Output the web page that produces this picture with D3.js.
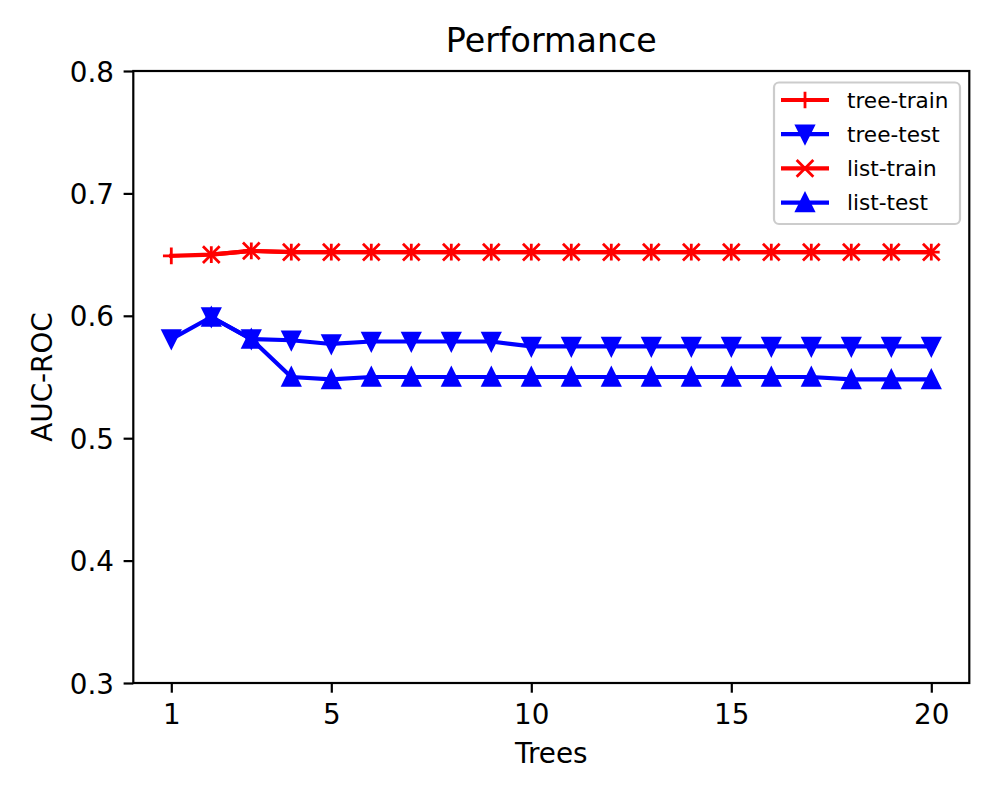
<!DOCTYPE html>
<html>
<head>
<meta charset="utf-8">
<script src="https://cdn.jsdelivr.net/npm/d3@7"></script>
<style>
  body { margin: 0; background: #fff; }
  text { font-family: "DejaVu Sans", sans-serif; fill: #000; }
</style>
</head>
<body>
<svg id="chart" width="1000" height="800"></svg>
<script>
// values
var treeX = d3.range(1, 21);
var listX = d3.range(2, 21);
var treeTrain = [0.649, 0.650, 0.653, 0.652, 0.652, 0.652, 0.652, 0.652, 0.652, 0.652,
                 0.652, 0.652, 0.652, 0.652, 0.652, 0.652, 0.652, 0.652, 0.652, 0.652];
var treeTest = [0.581, 0.599, 0.581, 0.580, 0.577, 0.579, 0.579, 0.579, 0.579, 0.575,
                0.575, 0.575, 0.575, 0.575, 0.575, 0.575, 0.575, 0.575, 0.575, 0.575];
var listTrain = [0.650, 0.653, 0.652, 0.652, 0.652, 0.652, 0.652, 0.652, 0.652, 0.652,
                 0.652, 0.652, 0.652, 0.652, 0.652, 0.652, 0.652, 0.652, 0.652];
var listTest = [0.599, 0.581, 0.550, 0.548, 0.550, 0.550, 0.550, 0.550, 0.550, 0.550,
                0.550, 0.550, 0.550, 0.550, 0.550, 0.550, 0.548, 0.548, 0.548];
var xTicks = [1, 5, 10, 15, 20];
var yTicks = [0.3, 0.4, 0.5, 0.6, 0.7, 0.8];

var series = [
    {name: 'tree-train', xs: treeX, ys: treeTrain, color: '#ff0000', marker: 'plus'},
    {name: 'tree-test', xs: treeX, ys: treeTest, color: '#0000ff', marker: 'tridown'},
    {name: 'list-train', xs: listX, ys: listTrain, color: '#ff0000', marker: 'cross'},
    {name: 'list-test', xs: listX, ys: listTest, color: '#0000ff', marker: 'triup'}
];

var box = {left: 133.3, right: 969.3, top: 71, bottom: 683};
var lw = 4.17, ms = 8.35, mew = 2.8, axw = 2.2;

var svg = d3.select('#chart');

var x = d3.scaleLinear().domain([0.05, 20.95]).range([box.left, box.right]);
var y = d3.scaleLinear().domain([0.3, 0.8]).range([box.bottom, box.top]);

var markerPath = {
    plus: 'M' + -ms + ',0H' + ms + 'M0,' + -ms + 'V' + ms,
    cross: 'M' + -ms + ',' + -ms + 'L' + ms + ',' + ms + 'M' + -ms + ',' + ms + 'L' + ms + ',' + -ms,
    tridown: 'M0,' + ms + 'L' + -ms + ',' + -ms + 'L' + ms + ',' + -ms + 'Z',
    triup: 'M0,' + -ms + 'L' + -ms + ',' + ms + 'L' + ms + ',' + ms + 'Z'
};

function drawMarker(g, kind, color) {
    var filled = kind == 'tridown' || kind == 'triup';
    g.append('path')
        .attr('d', markerPath[kind])
        .attr('fill', filled ? color : 'none')
        .attr('stroke', color)
        .attr('stroke-width', mew)
        .attr('stroke-linejoin', 'miter');
}

// axes
var xAxis = svg.append('g')
    .attr('transform', 'translate(0,' + box.bottom + ')')
    .call(d3.axisBottom(x).tickValues(xTicks).tickSize(9.7).tickPadding(9.7).tickSizeOuter(0));
var yAxis = svg.append('g')
    .attr('transform', 'translate(' + box.left + ',0)')
    .call(d3.axisLeft(y).tickValues(yTicks).tickFormat(d3.format('.1f')).tickSize(9.7).tickPadding(9.7).tickSizeOuter(0));

[xAxis, yAxis].forEach(function(a) {
    a.select('.domain').remove();
    a.selectAll('line').attr('stroke', '#000').attr('stroke-width', axw);
    a.selectAll('text')
        .style('font-family', '"DejaVu Sans", sans-serif')
        .style('font-size', '27.8px')
        .attr('fill', '#000');
});
xAxis.selectAll('text').attr('dy', '0.78em');
yAxis.selectAll('text').attr('dy', '0.36em');

// lines and markers
var line = d3.line()
    .x(function(d) { return x(d[0]); })
    .y(function(d) { return y(d[1]); });

series.forEach(function(s) {
    var pts = s.xs.map(function(v, i) { return [v, s.ys[i]]; });
    var g = svg.append('g').attr('class', 'series');
    g.append('path')
        .datum(pts)
        .attr('d', line)
        .attr('fill', 'none')
        .attr('stroke', s.color)
        .attr('stroke-width', lw)
        .attr('stroke-linejoin', 'round')
        .attr('stroke-linecap', 'square');
    g.selectAll('.mk')
        .data(pts)
      .enter()
      .append('g')
        .attr('class', 'mk')
        .attr('transform', function(d) { return 'translate(' + x(d[0]) + ',' + y(d[1]) + ')'; })
        .each(function() { drawMarker(d3.select(this), s.marker, s.color); });
});

// spines
svg.append('rect')
    .attr('x', box.left)
    .attr('y', box.top)
    .attr('width', box.right - box.left)
    .attr('height', box.bottom - box.top)
    .attr('fill', 'none')
    .attr('stroke', '#000')
    .attr('stroke-width', axw);

// labels
svg.append('text')
    .attr('x', (box.left + box.right) / 2)
    .attr('y', 52)
    .attr('text-anchor', 'middle')
    .style('font-size', '33.3px')
    .text('Performance');
svg.append('text')
    .attr('x', (box.left + box.right) / 2)
    .attr('y', 763)
    .attr('text-anchor', 'middle')
    .style('font-size', '27.8px')
    .text('Trees');
svg.append('text')
    .attr('transform', 'translate(52,' + (box.top + box.bottom) / 2 + ') rotate(-90)')
    .attr('text-anchor', 'middle')
    .style('font-size', '27.8px')
    .text('AUC-ROC');

// legend
var legend = svg.append('g');
legend.append('rect')
    .attr('x', 774)
    .attr('y', 82.5)
    .attr('width', 186)
    .attr('height', 141.5)
    .attr('rx', 5)
    .attr('fill', '#fff')
    .attr('fill-opacity', 0.8)
    .attr('stroke', '#cccccc')
    .attr('stroke-width', axw);

series.forEach(function(s, i) {
    var row = legend.append('g')
        .attr('transform', 'translate(0,' + (100 + i * 34.2) + ')');
    row.append('line')
        .attr('x1', 781).attr('x2', 829)
        .attr('stroke', s.color)
        .attr('stroke-width', lw);
    drawMarker(row.append('g').attr('transform', 'translate(805,0)'), s.marker, s.color);
    row.append('text')
        .attr('x', 847)
        .attr('dy', '0.36em')
        .style('font-size', '21.6px')
        .text(s.name);
});
</script>
</body>
</html>
